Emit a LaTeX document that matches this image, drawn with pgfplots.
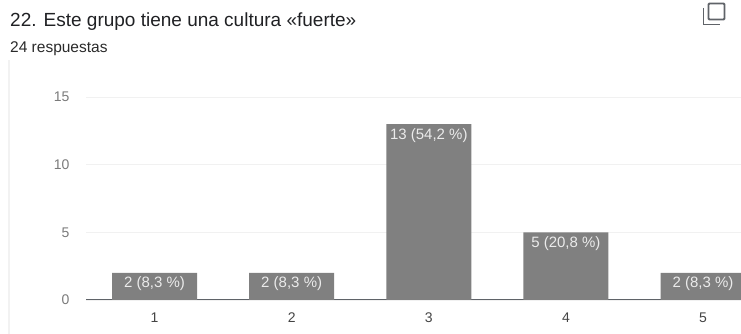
\documentclass[border=0pt]{standalone}
\usepackage{pgfplots}
\pgfplotsset{compat=1.18}
\usepackage{fontspec}
\setmainfont{Liberation Sans}
\definecolor{barc}{HTML}{808080}
\definecolor{ytickc}{HTML}{7A7A7A}
\definecolor{xtickc}{HTML}{444444}
\definecolor{gridc}{HTML}{F1F1F1}
\definecolor{titlec}{HTML}{202124}
\definecolor{subc}{HTML}{2A2A2A}
\definecolor{iconc}{HTML}{5F6368}
\definecolor{basec}{HTML}{5F6368}
\begin{document}
\begin{tikzpicture}[x=1pt,y=1pt]
\path[use as bounding box] (0,0) rectangle (741,334);
\draw[draw=black!5, line width=1.5pt] (9,0) -- (9,274);
\node[anchor=base west, inner sep=0, text=titlec, font=\fontsize{19}{22}\selectfont] at (10,307) {22. Este grupo tiene una cultura «fuerte»};
\node[anchor=base west, inner sep=0, text=subc, font=\fontsize{15.5}{18}\selectfont] at (10,281) {24 respuestas};
\draw[iconc, line width=1.9pt, rounded corners=1pt] (708.5,330.5) rectangle (724.5,314.5);
\draw[iconc, line width=1.9pt] (703.5,326) -- (703.5,309.5) -- (719.5,309.5);
\begin{axis}[
  at={(86pt,34pt)}, anchor=south west,
  scale only axis, width=655pt, height=203pt,
  xmin=-0.5, xmax=4.277, ymin=0, ymax=15,
  ybar, bar width=85pt,
  axis line style={draw=none},
  major tick length=0pt,
  ytick={0,5,10,15},
  xtick={0,1,2,3,4}, xticklabels={1,2,3,4,5},
  ymajorgrids, grid style={gridc, line width=0.8pt},
  extra y ticks={0}, extra y tick labels={},
  extra y tick style={grid style={basec, line width=1pt}},
  /pgf/number format/assume math mode=true,
  yticklabel style={font=\fontsize{14}{16}\selectfont, text=ytickc, xshift=-13pt},
  xticklabel style={font=\fontsize{14}{16}\selectfont, text=xtickc, yshift=-9pt},
  point meta=explicit symbolic,
  nodes near coords,
  nodes near coords style={anchor=base, inner sep=0pt, yshift=-15pt, text=white!92!black, font=\fontsize{15}{18}\selectfont},
]
\addplot[fill=barc, draw=none] coordinates {
  (0,2) [2 (8,3 \%)]
  (1,2) [2 (8,3 \%)]
  (2,13) [13 (54,2 \%)]
  (3,5) [5 (20,8 \%)]
  (4,2) [2 (8,3 \%)]
};
\end{axis}
\end{tikzpicture}
\end{document}
